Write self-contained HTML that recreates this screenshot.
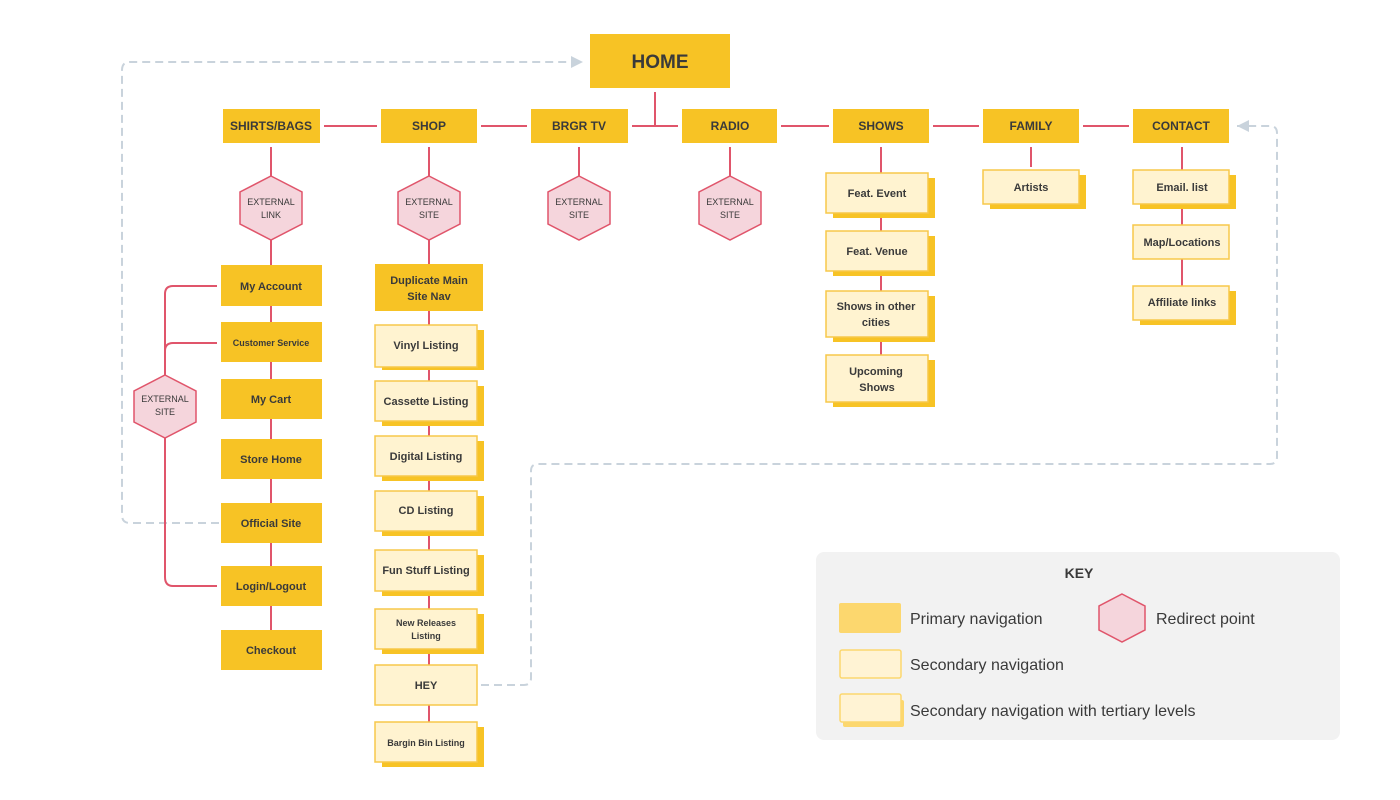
<!DOCTYPE html>
<html><head><meta charset="utf-8"><style>
html,body{margin:0;padding:0;background:#fff;}
svg{display:block;}
text{font-family:"Liberation Sans",sans-serif;fill:#3a3a3a;}
.p{font-weight:bold;font-size:12px;}
.s{font-size:11px;font-weight:bold;}
.h{font-size:9px;}
</style></head><body>
<svg width="1400" height="800" viewBox="0 0 1400 800" xmlns="http://www.w3.org/2000/svg">
<defs>
<marker id="ar" markerWidth="8" markerHeight="8" refX="6" refY="4" orient="auto"><path d="M0,1 L6,4 L0,7" fill="#c9d3dc"/></marker>
</defs>
<g fill="none" stroke="#c9d3dc" stroke-width="2" stroke-dasharray="8,5">
<path d="M219,523 H130 Q122,523 122,515 V70 Q122,62 130,62 H583" marker-end="url(#ar)"/>
<path d="M481,685 H524 Q531,685 531,678 V471 Q531,464 538,464 H1270 Q1277,464 1277,457 V133 Q1277,126 1270,126 H1237" marker-end="url(#ar)"/>
</g>
<g fill="none" stroke="#e0556b" stroke-width="2">
<path d="M655,92 V126"/>
<path d="M324,126 H377 M481,126 H527 M632,126 H678 M781,126 H829 M933,126 H979 M1083,126 H1129"/>
<path d="M271,147 V176 M271,240 V265 M271,306 V630"/>
<path d="M429,147 V176 M429,240 V264 M429,311 V722"/>
<path d="M579,147 V176 M730,147 V176"/>
<path d="M881,147 V402"/>
<path d="M1031,147 V167"/>
<path d="M1182,147 V290"/>
<path d="M217,286 H173 Q165,286 165,294 V577 Q165,586 173,586 H217"/>
<path d="M217,343 H173 Q165,343 165,351"/>
</g>
<rect x="590" y="34" width="140" height="54" fill="#f7c325"/>
<text x="660" y="68" text-anchor="middle" style="font-weight:bold;font-size:19px">HOME</text>
<g fill="#f7c325">
<rect x="223" y="109" width="97" height="34"/><rect x="381" y="109" width="96" height="34"/>
<rect x="531" y="109" width="97" height="34"/><rect x="682" y="109" width="95" height="34"/>
<rect x="833" y="109" width="96" height="34"/><rect x="983" y="109" width="96" height="34"/>
<rect x="1133" y="109" width="96" height="34"/>
<rect x="221" y="265" width="101" height="41"/><rect x="221" y="322" width="101" height="40"/>
<rect x="221" y="379" width="101" height="40"/><rect x="221" y="439" width="101" height="40"/>
<rect x="221" y="503" width="101" height="40"/><rect x="221" y="566" width="101" height="40"/>
<rect x="221" y="630" width="101" height="40"/>
<rect x="375" y="264" width="108" height="47"/>
</g>
<g class="p" text-anchor="middle">
<text x="271" y="130">SHIRTS/BAGS</text><text x="429" y="130">SHOP</text><text x="579" y="130">BRGR TV</text>
<text x="730" y="130">RADIO</text><text x="881" y="130">SHOWS</text><text x="1031" y="130">FAMILY</text><text x="1181" y="130">CONTACT</text>
</g>
<g class="s" text-anchor="middle">
<text x="271" y="290">My Account</text><text x="271" y="346" style="font-size:9px">Customer Service</text>
<text x="271" y="403">My Cart</text><text x="271" y="463">Store Home</text><text x="271" y="527">Official Site</text>
<text x="271" y="590">Login/Logout</text><text x="271" y="654">Checkout</text>
<text x="429" y="284">Duplicate Main</text><text x="429" y="300">Site Nav</text>
</g>
<g fill="#f5d5dc" stroke="#e0556b" stroke-width="1.5">
<polygon points="271,176 302,192 302,224 271,240 240,224 240,192"/>
<polygon points="429,176 460,192 460,224 429,240 398,224 398,192"/>
<polygon points="579,176 610,192 610,224 579,240 548,224 548,192"/>
<polygon points="730,176 761,192 761,224 730,240 699,224 699,192"/>
<polygon points="165,375 196,391 196,422 165,438 134,422 134,391"/>
</g>
<g class="h" text-anchor="middle">
<text x="271" y="205">EXTERNAL</text><text x="271" y="218">LINK</text>
<text x="429" y="205">EXTERNAL</text><text x="429" y="218">SITE</text>
<text x="579" y="205">EXTERNAL</text><text x="579" y="218">SITE</text>
<text x="730" y="205">EXTERNAL</text><text x="730" y="218">SITE</text>
<text x="165" y="402">EXTERNAL</text><text x="165" y="415">SITE</text>
</g>
<g fill="#f7c325">
<rect x="382" y="330" width="102" height="40"/><rect x="382" y="386" width="102" height="40"/>
<rect x="382" y="441" width="102" height="40"/><rect x="382" y="496" width="102" height="40"/>
<rect x="382" y="555" width="102" height="41"/><rect x="382" y="614" width="102" height="40"/>
<rect x="382" y="727" width="102" height="40"/>
<rect x="833" y="178" width="102" height="40"/><rect x="833" y="236" width="102" height="40"/>
<rect x="833" y="296" width="102" height="46"/><rect x="833" y="360" width="102" height="47"/>
<rect x="990" y="175" width="96" height="34"/><rect x="1140" y="175" width="96" height="34"/>
<rect x="1140" y="291" width="96" height="34"/>
</g>
<g fill="#fff3d0" stroke="#f7c84a" stroke-width="1.5">
<rect x="375" y="325" width="102" height="42"/><rect x="375" y="381" width="102" height="40"/>
<rect x="375" y="436" width="102" height="40"/><rect x="375" y="491" width="102" height="40"/>
<rect x="375" y="550" width="102" height="41"/><rect x="375" y="609" width="102" height="40"/>
<rect x="375" y="665" width="102" height="40"/><rect x="375" y="722" width="102" height="40"/>
<rect x="826" y="173" width="102" height="40"/><rect x="826" y="231" width="102" height="40"/>
<rect x="826" y="291" width="102" height="46"/><rect x="826" y="355" width="102" height="47"/>
<rect x="983" y="170" width="96" height="34"/><rect x="1133" y="170" width="96" height="34"/>
<rect x="1133" y="225" width="96" height="34"/><rect x="1133" y="286" width="96" height="34"/>
</g>
<g class="s" text-anchor="middle">
<text x="426" y="349">Vinyl Listing</text><text x="426" y="405">Cassette Listing</text>
<text x="426" y="460">Digital  Listing</text><text x="426" y="514">CD Listing</text>
<text x="426" y="574">Fun Stuff Listing</text>
<text x="426" y="626" style="font-size:9px">New Releases</text><text x="426" y="639" style="font-size:9px">Listing</text>
<text x="426" y="689">HEY</text><text x="426" y="746" style="font-size:9px">Bargin Bin Listing</text>
<text x="877" y="197">Feat. Event</text><text x="877" y="255">Feat. Venue</text>
<text x="876" y="310">Shows in other</text><text x="876" y="326">cities</text>
<text x="876" y="375">Upcoming</text><text x="877" y="391">Shows</text>
<text x="1031" y="191">Artists</text><text x="1182" y="191">Email. list</text>
<text x="1182" y="246">Map/Locations</text><text x="1182" y="306">Affiliate links</text>
</g>
<rect x="816" y="552" width="524" height="188" rx="8" fill="#f2f2f2"/>
<text x="1079" y="578" text-anchor="middle" style="font-weight:bold;font-size:14px">KEY</text>
<polygon points="1122,594 1145,606 1145,630 1122,642 1099,630 1099,606" fill="#f5d5dc" stroke="#e0556b" stroke-width="1.5"/>
<rect x="839" y="603" width="62" height="30" rx="2" fill="#fcd76e"/>
<rect x="840" y="650" width="61" height="28" rx="2" fill="#fff3d4" stroke="#fcd76e" stroke-width="1.5"/>
<rect x="843" y="700" width="61" height="27" rx="2" fill="#fcd76e"/>
<rect x="840" y="694" width="61" height="28" rx="2" fill="#fff3d4" stroke="#fcd76e" stroke-width="1.5"/>
<g style="font-size:16px">
<text x="910" y="624">Primary navigation</text>
<text x="1156" y="624">Redirect point</text>
<text x="910" y="670">Secondary navigation</text>
<text x="910" y="716">Secondary navigation with tertiary levels</text>
</g>
</svg>
</body></html>
